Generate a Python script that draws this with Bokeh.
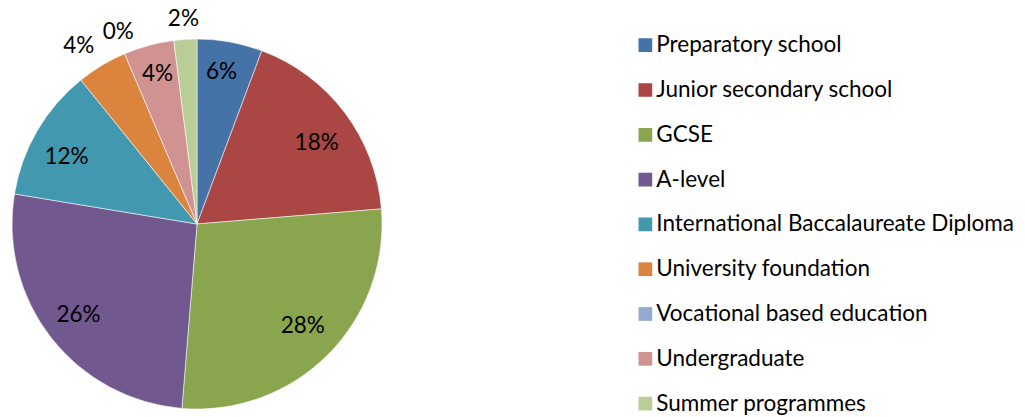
import math
from bokeh.plotting import figure
from bokeh.models import Range1d, ColumnDataSource
from bokeh.core.properties import value
from bokeh.embed import file_html
from bokeh.resources import INLINE

categories = ["Preparatory school", "Junior secondary school", "GCSE", "A-level",
              "International Baccalaureate Diploma", "University foundation",
              "Vocational based education", "Undergraduate", "Summer programmes"]
shares = [5.7, 18.0, 27.6, 26.3, 11.6, 4.4, 0.0, 4.4, 2.0]
colors = ["#4572A7", "#AA4643", "#89A54E", "#71588F", "#4198AF",
          "#DB843D", "#93A9CF", "#D19392", "#B9CD96"]

# label layout (best-fit placement): radial factor and angular nudge (degrees)
label_radius = [0.83, 0.78, 0.795, 0.806, 0.794, 1.153, 1.12, 0.836, 1.11]
label_nudge = [-1.1, 3.1, -1.0, 0.6, -2.9, -2.7, 0.7, 0.3, -0.2]

W, H = 1025, 417
FONT = "Lato"
FSIZE = "22.5px"

p = figure(width=W, height=H, x_range=Range1d(0, W), y_range=Range1d(0, H),
           output_backend="svg", toolbar_location=None, min_border=0,
           x_axis_location=None, y_axis_location=None)
p.grid.visible = False
p.outline_line_color = None

cx, cy, r = 196.5, 193.5, 185.0
total = sum(shares)
wed = dict(start=[], end=[], color=[])
lab = dict(lx=[], ly=[], label=[])
cum = 0.0
for i, (cat, v, c) in enumerate(zip(categories, shares, colors)):
    a0 = cum / total * 2 * math.pi
    cum += v
    a1 = cum / total * 2 * math.pi
    if v > 0:
        wed["start"].append(math.pi / 2 - a0)
        wed["end"].append(math.pi / 2 - a1)
        wed["color"].append(c)
    mid = (a0 + a1) / 2 + math.radians(label_nudge[i])
    f = label_radius[i]
    lab["lx"].append(cx + f * r * math.sin(mid))
    lab["ly"].append(cy + f * r * math.cos(mid) + 1.5)
    lab["label"].append(f"{round(v / total * 100)}%")

p.wedge(x=cx, y=cy, radius=r, start_angle="start", end_angle="end", direction="clock",
        fill_color="color", line_color="white", line_width=0.8, line_alpha=0.7,
        source=ColumnDataSource(wed))
p.text(x="lx", y="ly", text="label", source=ColumnDataSource(lab),
       text_align="center", text_baseline="middle",
       text_font=value(FONT), text_font_size=FSIZE, text_color="#000000")

# legend
leg_top, leg_step = 372.3, 44.8
n = len(categories)
leg_y = [leg_top - i * leg_step for i in range(n)]
lsrc = ColumnDataSource(dict(cat=categories, color=colors, y=leg_y,
                             ty=[y + 1.5 for y in leg_y],
                             sx=[644.85] * n, tx=[655.8] * n))
p.rect(x="sx", y="y", width=13.7, height=13.7, fill_color="color", line_color=None, source=lsrc)
p.text(x="tx", y="ty", text="cat", source=lsrc, text_align="left", text_baseline="middle",
       text_font=value(FONT), text_font_size=FSIZE, text_color="#000000")

open("out.html", "w").write(file_html(p, INLINE))
